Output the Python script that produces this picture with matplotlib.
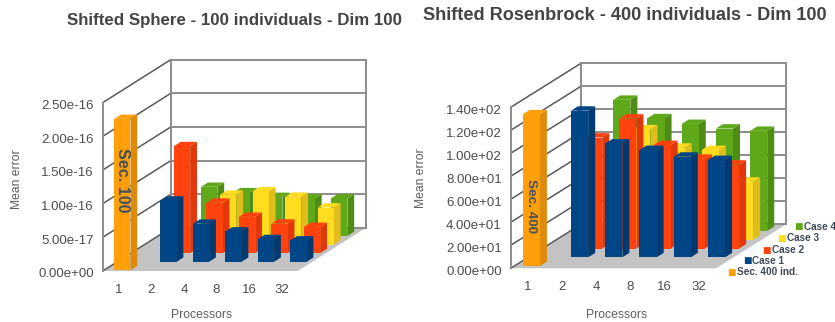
import matplotlib
matplotlib.use('Agg')
import matplotlib.pyplot as plt
from matplotlib.patches import Polygon
from matplotlib.transforms import ScaledTranslation

plt.rcParams['font.family'] = ['Liberation Sans', 'DejaVu Sans']

categories = ['1', '2', '4', '8', '16', '32']

# left chart, values in units of 1e-16
sphere_sec = [2.25]
sphere_case1 = [0.91, 0.565, 0.45, 0.337, 0.317]
sphere_case2 = [1.59, 0.75, 0.54, 0.44, 0.39]
sphere_case3 = [0.74, 0.79, 0.71, 0.55]
sphere_case4 = [0.73, 0.65, 0.58, 0.56, 0.56]
sphere_ticks = [0, 0.5, 1.0, 1.5, 2.0, 2.5]
sphere_labels = ['0.00e+00', '5.00e-17', '1.00e-16', '1.50e-16', '2.00e-16', '2.50e-16']

# right chart
rosen_sec = [132]
rosen_case1 = [127.5, 99, 93.3, 87.5, 84.6]
rosen_case2 = [96.5, 113, 90, 78, 73]
rosen_case3 = [96, 80, 78, 50.4]
rosen_case4 = [114, 98, 93, 89, 87]
rosen_ticks = [0, 20, 40, 60, 80, 100, 120, 140]
rosen_labels = ['0.00e+00', '2.00e+01', '4.00e+01', '6.00e+01', '8.00e+01',
                '1.00e+02', '1.20e+02', '1.40e+02']

legend_names = ['Sec. 400 ind.', 'Case 1', 'Case 2', 'Case 3', 'Case 4']
colors = ['#ffa00a', '#004586', '#ff420e', '#ffdc20', '#5fa81a']
sides = ['#e08a0a', '#003a70', '#e0380a', '#e0bc1c', '#4f8c16']
starts = [0, 1, 1, 2, 1]

W, H = 835, 322


def draw_panel(box, back, ymax, ticks, labels, rows, sec_text, sec_pos, sec_size, lift_px):
    # box is front wall in pixels: left, floor y, width, height
    left, floor, width, height = box
    ax = fig.add_axes([left / W, (H - floor) / H, width / W, height / H])
    ax.set_xlim(0, 6)
    ax.set_ylim(0, ymax)
    for s in ax.spines.values():
        s.set_visible(False)
    ax.patch.set_visible(False)
    ax.set_xticks([i + 0.5 for i in range(6)], categories)
    ax.set_yticks(ticks, labels)
    ax.tick_params(length=0, labelsize=9.5, labelcolor='#4d4d4d')
    ax.tick_params(axis='x', pad=9.5)
    ax.tick_params(axis='y', pad=6.5)
    for lab in ax.get_yticklabels():
        lab.set_transform(lab.get_transform() + ScaledTranslation(0, -1.8 / 100, fig.dpi_scale_trans))

    # shear for one unit of depth (whole floor = 5 rows)
    kx = back[0] / width * 6 / 5
    ky = back[1] / height * ymax / 5

    def pr(c, d, v):
        return (c + d * kx, v + d * ky)

    grey = '#8c8c8c'
    # walls and floor
    ax.add_patch(Polygon([pr(0, 0, 0), pr(6, 0, 0), pr(6, 5, 0), pr(0, 5, 0)], fc='#c3c3c3', ec='none', clip_on=False, zorder=1))
    for t in ticks:
        ax.plot(*zip(pr(0, 5, t), pr(6, 5, t)), color=grey, lw=1.4, clip_on=False, zorder=1)
        ax.plot(*zip(pr(0, 0, t), pr(0, 5, t)), color='#5a5a5a', lw=1.1, clip_on=False, zorder=1)
    ax.plot(*zip(pr(0, 0, 0), pr(0, 0, ymax)), color=grey, lw=1.4, clip_on=False, zorder=1)
    ax.plot(*zip(pr(0, 5, 0), pr(0, 5, ymax)), color=grey, lw=1.4, clip_on=False, zorder=1)
    ax.plot(*zip(pr(6, 5, 0), pr(6, 5, ymax)), color=grey, lw=1.4, clip_on=False, zorder=1)

    z = 2
    base = -lift_px * ymax / height
    for r in range(4, -1, -1):
        for i, v in enumerate(rows[r]):
            c0 = starts[r] + i + 0.25
            c1 = c0 + 0.5
            d0 = r + 0.25
            d1 = r + 0.75
            tp = v + base
            front = [pr(c0, d0, base), pr(c1, d0, base), pr(c1, d0, tp), pr(c0, d0, tp)]
            side = [pr(c1, d0, base), pr(c1, d1, base), pr(c1, d1, tp), pr(c1, d0, tp)]
            top = [pr(c0, d0, tp), pr(c1, d0, tp), pr(c1, d1, tp), pr(c0, d1, tp)]
            ax.add_patch(Polygon(side, fc=sides[r], ec='none', clip_on=False, zorder=z))
            ax.add_patch(Polygon(top, fc=colors[r], ec='none', clip_on=False, zorder=z))
            ax.add_patch(Polygon(front, fc=colors[r], ec='none', clip_on=False, zorder=z))
            z += 1

    mid = pr(0.5, 0.25, sec_pos)
    ax.text(mid[0], mid[1], sec_text, rotation=-90, ha='center', va='center', fontsize=sec_size,
            fontweight='bold', color='#44505a', zorder=z)
    return ax


fig = plt.figure(figsize=(W / 100, H / 100), dpi=100)

draw_panel((102.7, 271, 195, 168.3), (68, 43), 2.5, sphere_ticks, sphere_labels,
           [sphere_sec, sphere_case1, sphere_case2, sphere_case3, sphere_case4],
           'Sec. 100', 1.32, 11.6, 1.5)
draw_panel((510.7, 268.3, 205.3, 161), (70.3, 44), 140, rosen_ticks, rosen_labels,
           [rosen_sec, rosen_case1, rosen_case2, rosen_case3, rosen_case4],
           'Sec. 400', 52, 9.7, 0)


def px_text(x, y, s, **kw):
    fig.text(x / W, 1 - y / H, s, **kw)


px_text(234.5, 21, 'Shifted Sphere - 100 individuals - Dim 100', ha='center', va='center',
        fontsize=12.2, fontweight='bold', color='#444444')
px_text(624.5, 15.5, 'Shifted Rosenbrock - 400 individuals - Dim 100', ha='center', va='center',
        fontsize=13.1, fontweight='bold', color='#444444')
px_text(202, 315, 'Processors', ha='center', va='center', fontsize=8.8, color='#5e5e5e')
px_text(616.5, 314.5, 'Processors', ha='center', va='center', fontsize=8.8, color='#5e5e5e')
px_text(16.5, 179, 'Mean error', rotation=90, ha='center', va='center', fontsize=8.7, color='#5e5e5e')
px_text(420.5, 178, 'Mean error', rotation=90, ha='center', va='center', fontsize=8.7, color='#5e5e5e')

leg_x = [731.7, 747, 766, 781.7, 798]
leg_y = [272, 261, 250, 238, 227]
for name, col, x, y in zip(legend_names, colors, leg_x, leg_y):
    px_text(x, y, '\u25a0', ha='center', va='center', fontsize=6.5, color=col, family='DejaVu Sans')
    px_text(x + 5.5, y, name, ha='left', va='center', fontsize=7.2, fontweight='bold', color='#404a55')

fig.savefig('out.png', dpi=100)
